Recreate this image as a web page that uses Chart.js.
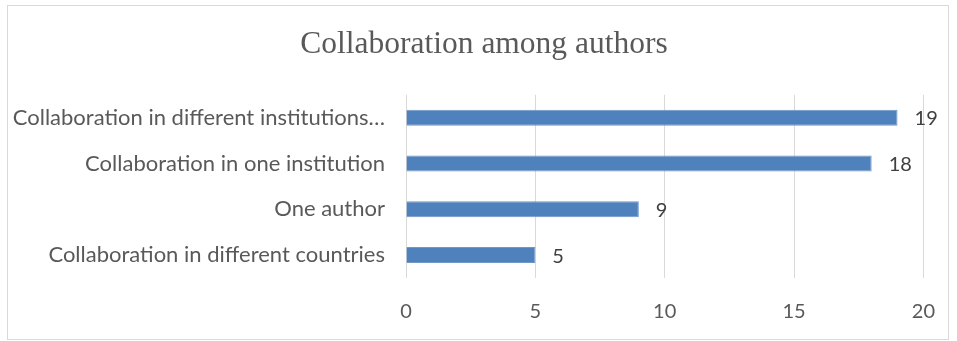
<!DOCTYPE html>
<html>
<head>
<meta charset="utf-8">
<script src="https://cdn.jsdelivr.net/npm/chart.js@4"></script>
<style>
  html, body { margin: 0; padding: 0; background: #ffffff; }
  #wrap { position: absolute; left: 0; top: 0; width: 957px; height: 341px; }
  #frame { position: absolute; left: 7px; top: 5px; width: 940px; height: 333px; border: 1px solid #d9d9d9; pointer-events: none; }
</style>
</head>
<body>
<div id="wrap"><canvas id="c" width="957" height="341"></canvas></div>
<div id="frame"></div>
<script>
const chartTitle = "Collaboration among authors";
const categories = [
  "Collaboration in different institutions…",
  "Collaboration in one institution",
  "One author",
  "Collaboration in different countries"
];
const values = [19, 18, 9, 5];
const xTicks = [0, 5, 10, 15, 20];

const labelFont = "Lato, 'Liberation Sans', sans-serif";

const dataLabels = {
  id: 'dataLabels',
  afterDatasetsDraw(chart) {
    const ctx = chart.ctx;
    const meta = chart.getDatasetMeta(0);
    ctx.save();
    ctx.font = "20px " + labelFont;
    ctx.fillStyle = '#404040';
    ctx.textAlign = 'left';
    ctx.textBaseline = 'middle';
    meta.data.forEach((bar, i) => {
      ctx.fillText(String(values[i]), bar.x + 17, bar.y + 1);
    });
    ctx.restore();
  }
};

new Chart(document.getElementById('c'), {
  type: 'bar',
  data: {
    labels: categories,
    datasets: [{
      data: values,
      backgroundColor: '#4f81bd',
      borderColor: '#6f97c8',
      borderWidth: 1,
      barPercentage: 0.7,
      categoryPercentage: 0.5
    }]
  },
  options: {
    indexAxis: 'y',
    responsive: false,
    animation: false,
    layout: { padding: { left: 42, right: 31, top: 0, bottom: 0 } },
    plugins: {
      legend: { display: false },
      tooltip: { enabled: false },
      title: {
        display: true,
        text: chartTitle,
        color: '#595959',
        font: { family: "'Liberation Serif', serif", size: 31.5, weight: 'normal', lineHeight: 1.2 },
        padding: { top: 26, bottom: 31 }
      }
    },
    scales: {
      x: {
        min: 0,
        max: 20,
        afterBuildTicks(scale) { scale.ticks = xTicks.map(v => ({ value: v })); },
        afterFit(scale) { scale.height = 63; },
        grid: { color: '#d9d9d9', lineWidth: 1, drawTicks: false },
        border: { display: false },
        ticks: {
          color: '#595959',
          padding: 22,
          font: { family: labelFont, size: 20 }
        }
      },
      y: {
        afterFit(scale) { scale.width = 364; },
        afterUpdate(scale) { scale._computeLabelArea = () => undefined; },
        grid: { display: false, drawTicks: false },
        border: { display: false },
        ticks: {
          color: '#595959',
          padding: 21,
          font: { family: labelFont, size: 22 }
        }
      }
    }
  },
  plugins: [dataLabels]
});
</script>
</body>
</html>
